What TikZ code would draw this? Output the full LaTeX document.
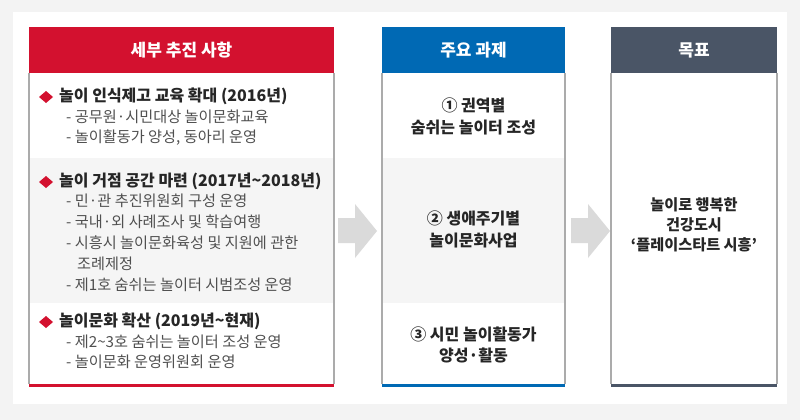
\documentclass[tikz,border=0pt]{standalone}
\usepackage{fontspec}
\setmainfont{Noto Sans CJK KR}
\usetikzlibrary{positioning, calc}

\definecolor{hdred}{HTML}{D3112F}
\definecolor{hdblue}{HTML}{0069B4}
\definecolor{hdslate}{HTML}{4A5566}
\definecolor{band}{HTML}{F5F5F5}
\definecolor{outer}{HTML}{F3F3F3}
\definecolor{rimgray}{HTML}{ABABAB}
\definecolor{arrowgray}{HTML}{DADADA}
\definecolor{ink}{HTML}{262626}
\definecolor{subink}{HTML}{505050}

\begin{document}
\begin{tikzpicture}[x=1pt, y=-1pt,
    head/.style={font=\bfseries\fontsize{17}{20}\selectfont, text=white},
    point/.style={anchor=west, inner sep=0pt, text height=12pt, text depth=2.5pt,
        font=\bfseries\fontsize{16}{18}\selectfont, text=ink},
    sub/.style={anchor=west, inner sep=0pt, text height=12pt, text depth=2.5pt,
        font=\fontsize{15.2}{18}\selectfont, text=subink},
    task/.style={align=center, font=\bfseries\fontsize{16}{22}\selectfont, text=ink},
    rim/.style={draw=rimgray, line width=1.2pt}]

    % frame
    \fill[outer] (0,0) rectangle (800,420);
    \fill[white] (13,12) rectangle (787,404);

    % shaded bands
    \fill[band] (29,158) rectangle (334,303);
    \fill[band] (382,158) rectangle (565,303);

    % three panels
    \foreach \l/\r/\c in {29/334/hdred, 382/565/hdblue, 611/777/hdslate}{
        \fill[\c] (\l,27) rectangle (\r,73);
        \draw[rim] (\l,73) -- (\l,384) (\r,73) -- (\r,384);
        \fill[\c] (\l,383.5) rectangle (\r,387);
    }

    \node[head] (dethead) at (181.5,50) {세부 추진 사항};
    \node[head] (taskhead) at (473.5,50) {주요 과제};
    \node[head] (goalhead) at (694,50) {목표};

    % bullets
    \foreach \y in {97,182,322}
        \fill[hdred] (39,\y) -- (46,\y-6) -- (53,\y) -- (46,\y+6) -- cycle;

    \node[point] (p1) at (59,97) {놀이 인식제고 교육 확대 (2016년)};
    \foreach \y/\t in {118/{- 공무원·시민대상 놀이문화교육},
                       138/{- 놀이활동가 양성, 동아리 운영}}
        \node[sub] (s1-\y) at (66,\y) {\t};

    \node[point] (p2) at (59,182) {놀이 거점 공간 마련 (2017년\textasciitilde{}2018년)};
    \foreach \y/\t in {202/{- 민·관 추진위원회 구성 운영},
                       223/{- 국내·외 사례조사 및 학습여행},
                       244/{- 시흥시 놀이문화육성 및 지원에 관한},
                       286/{- 제1호 숨쉬는 놀이터 시범조성 운영}}
        \node[sub] (s2-\y) at (66,\y) {\t};
    \node[sub] (s2-265) at (77,265) {조례제정};

    \node[point] (p3) at (59,322) {놀이문화 확산 (2019년\textasciitilde{}현재)};
    \foreach \y/\t in {343/{- 제2\textasciitilde{}3호 숨쉬는 놀이터 조성 운영},
                       363/{- 놀이문화 운영위원회 운영}}
        \node[sub] (s3-\y) at (66,\y) {\t};

    % tasks
    \node[task] (t1) at (473.5,116) {① 권역별\\숨쉬는 놀이터 조성};
    \node[task] (t2) at (473.5,229) {② 생애주기별\\놀이문화사업};
    \node[task, font=\bfseries\fontsize{16}{21}\selectfont] (t3) at (473.5,345)
        {③ 시민 놀이활동가\\양성·활동};

    % goal
    \node[task, font=\bfseries\fontsize{15.2}{20}\selectfont] (goal) at (694,225)
        {놀이로 행복한\\건강도시\\‘플레이스타트 시흥’};

    % block arrows
    \foreach \s in {0,233}
        \fill[arrowgray] (338+\s,218) -- (355+\s,218) -- (355+\s,204) -- (377+\s,231)
            -- (355+\s,258) -- (355+\s,243) -- (338+\s,243) -- cycle;
\end{tikzpicture}
\end{document}
